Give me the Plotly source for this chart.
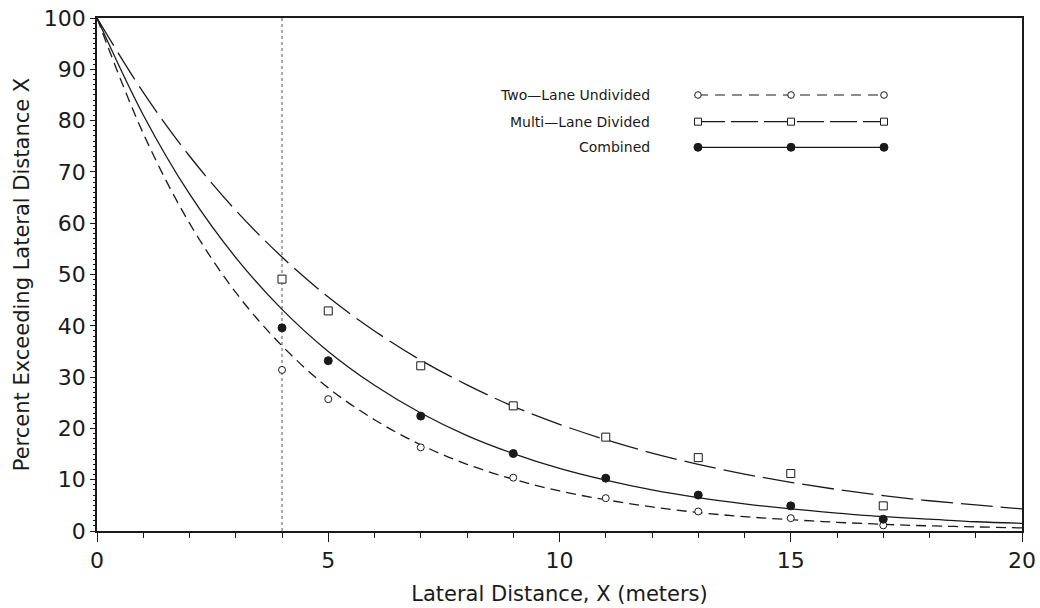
import plotly.graph_objects as go

# ---- data ----
curve_x = list(range(0, 21))
two_lane_curve = [100, 77.5, 60.0, 46.5, 36.1, 27.9, 21.7, 16.8, 13.0, 10.1, 7.8,
                  6.1, 4.7, 3.6, 2.8, 2.2, 1.7, 1.3, 1.0, 0.8, 0.6]
multi_lane_curve = [100, 85.5, 73.1, 62.5, 53.4, 45.6, 39.0, 33.3, 28.5, 24.3, 20.8,
                    17.8, 15.2, 13.0, 11.1, 9.5, 8.1, 6.9, 5.9, 5.1, 4.3]
combined_curve = [100, 81.1, 65.7, 53.3, 43.2, 35.0, 28.4, 23.0, 18.6, 15.1, 12.2,
                  9.9, 8.0, 6.5, 5.3, 4.3, 3.5, 2.8, 2.3, 1.8, 1.5]

pt_x = [4, 5, 7, 9, 11, 13, 15, 17]
two_lane_pts = [31.4, 25.7, 16.3, 10.4, 6.4, 3.8, 2.5, 1.1]
multi_lane_pts = [49.1, 42.9, 32.2, 24.4, 18.3, 14.3, 11.2, 4.9]
combined_pts = [39.6, 33.2, 22.4, 15.1, 10.3, 7.0, 4.9, 2.3]

series_names = ["Two\u2014Lane Undivided", "Multi\u2014Lane Divided", "Combined"]
ref_x = 4

x_ticks = [0, 5, 10, 15, 20]
y_ticks = [0, 10, 20, 30, 40, 50, 60, 70, 80, 90, 100]

# ---- styles ----
INK = "#1a1a1a"
FONT = "DejaVu Sans"
dash_two = "10px,6px"
dash_multi = "32px,8px"

fig = go.Figure()

curves = [
    (two_lane_curve, dash_two),
    (multi_lane_curve, dash_multi),
    (combined_curve, "solid"),
]
for ys, dsh in curves:
    fig.add_trace(go.Scatter(x=curve_x, y=ys, mode="lines", line_shape="spline",
                             line=dict(color=INK, width=1.3, dash=dsh),
                             showlegend=False, hoverinfo="skip"))

markers = [
    (two_lane_pts, dict(symbol="circle", size=7, color="white", line=dict(color=INK, width=1))),
    (multi_lane_pts, dict(symbol="square", size=8, color="white", line=dict(color=INK, width=1))),
    (combined_pts, dict(symbol="circle", size=8, color=INK, line=dict(color=INK, width=1))),
]
for ys, mk in markers:
    fig.add_trace(go.Scatter(x=pt_x, y=ys, mode="markers", marker=mk,
                             showlegend=False))

shapes = []
# reference dotted line
shapes.append(dict(type="line", xref="x", yref="y", x0=ref_x, x1=ref_x, y0=0, y1=100,
                   line=dict(color="#555", width=1, dash="dot"), layer="below"))

# custom legend (text left, sample right)
leg_rows = [0.8499, 0.7979, 0.748]
leg_x0, leg_xm, leg_x1 = 0.6497, 0.7503, 0.8508
leg_text_x = 0.6
leg_dash = ["10px,7px", "27px,6px", "solid"]
leg_sym = ["circle-open", "square-open", "circle-filled"]
annotations = []
for name, yy, dsh, sym in zip(series_names, leg_rows, leg_dash, leg_sym):
    shapes.append(dict(type="line", xref="paper", yref="paper", x0=leg_x0, x1=leg_x1,
                       y0=yy, y1=yy, line=dict(color=INK, width=1.2, dash=dsh)))
    for xx in (leg_x0, leg_xm, leg_x1):
        common = dict(xref="paper", yref="paper", xsizemode="pixel", ysizemode="pixel",
                      xanchor=xx, yanchor=yy, line=dict(color=INK, width=1))
        if sym == "square-open":
            shapes.append(dict(type="rect", x0=-3.5, x1=3.5, y0=-3.5, y1=3.5,
                               fillcolor="white", **common))
        elif sym == "circle-open":
            shapes.append(dict(type="circle", x0=-3.3, x1=3.3, y0=-3.3, y1=3.3,
                               fillcolor="white", **common))
        else:
            shapes.append(dict(type="circle", x0=-4, x1=4, y0=-4, y1=4,
                               fillcolor=INK, **common))
    annotations.append(dict(xref="paper", yref="paper", x=leg_text_x, y=yy,
                            xanchor="right", yanchor="middle", text=name,
                            showarrow=False, font=dict(family=FONT, size=14, color=INK)))

fig.update_layout(
    width=1040, height=608,
    margin=dict(l=97, r=18, t=18, b=77, autoexpand=False),
    paper_bgcolor="white", plot_bgcolor="white",
    font=dict(family=FONT, color=INK),
    shapes=shapes, annotations=annotations,
    showlegend=False,
    xaxis=dict(range=[0, 20], tickvals=x_ticks, ticks="outside", ticklen=9, tickwidth=1.2,
               tickcolor=INK, showgrid=False, zeroline=False, showline=True, linecolor=INK,
               linewidth=1.5, mirror=True, automargin=False,
               tickfont=dict(size=22, family=FONT, color=INK),
               minor=dict(dtick=1, ticks="outside", ticklen=5, tickwidth=1, tickcolor=INK),
               title=dict(text="Lateral Distance, X (meters)", standoff=14,
                          font=dict(size=21, family=FONT, color=INK))),
    yaxis=dict(range=[0, 100], tickvals=y_ticks, ticks="outside", ticklen=5, tickwidth=1.2,
               tickcolor=INK, showgrid=False, zeroline=False, showline=True, linecolor=INK,
               linewidth=1.5, mirror=True, automargin=False,
               tickfont=dict(size=22, family=FONT, color=INK),
               minor=dict(dtick=1, ticks="outside", ticklen=2.5, tickwidth=1, tickcolor=INK),
               title=dict(text="Percent Exceeding Lateral Distance X", standoff=8,
                          font=dict(size=21, family=FONT, color=INK))),
)

fig.write_html("out.html", config={"displayModeBar": False},
               post_script="document.body.style.margin='0';document.body.style.overflow='hidden';")
